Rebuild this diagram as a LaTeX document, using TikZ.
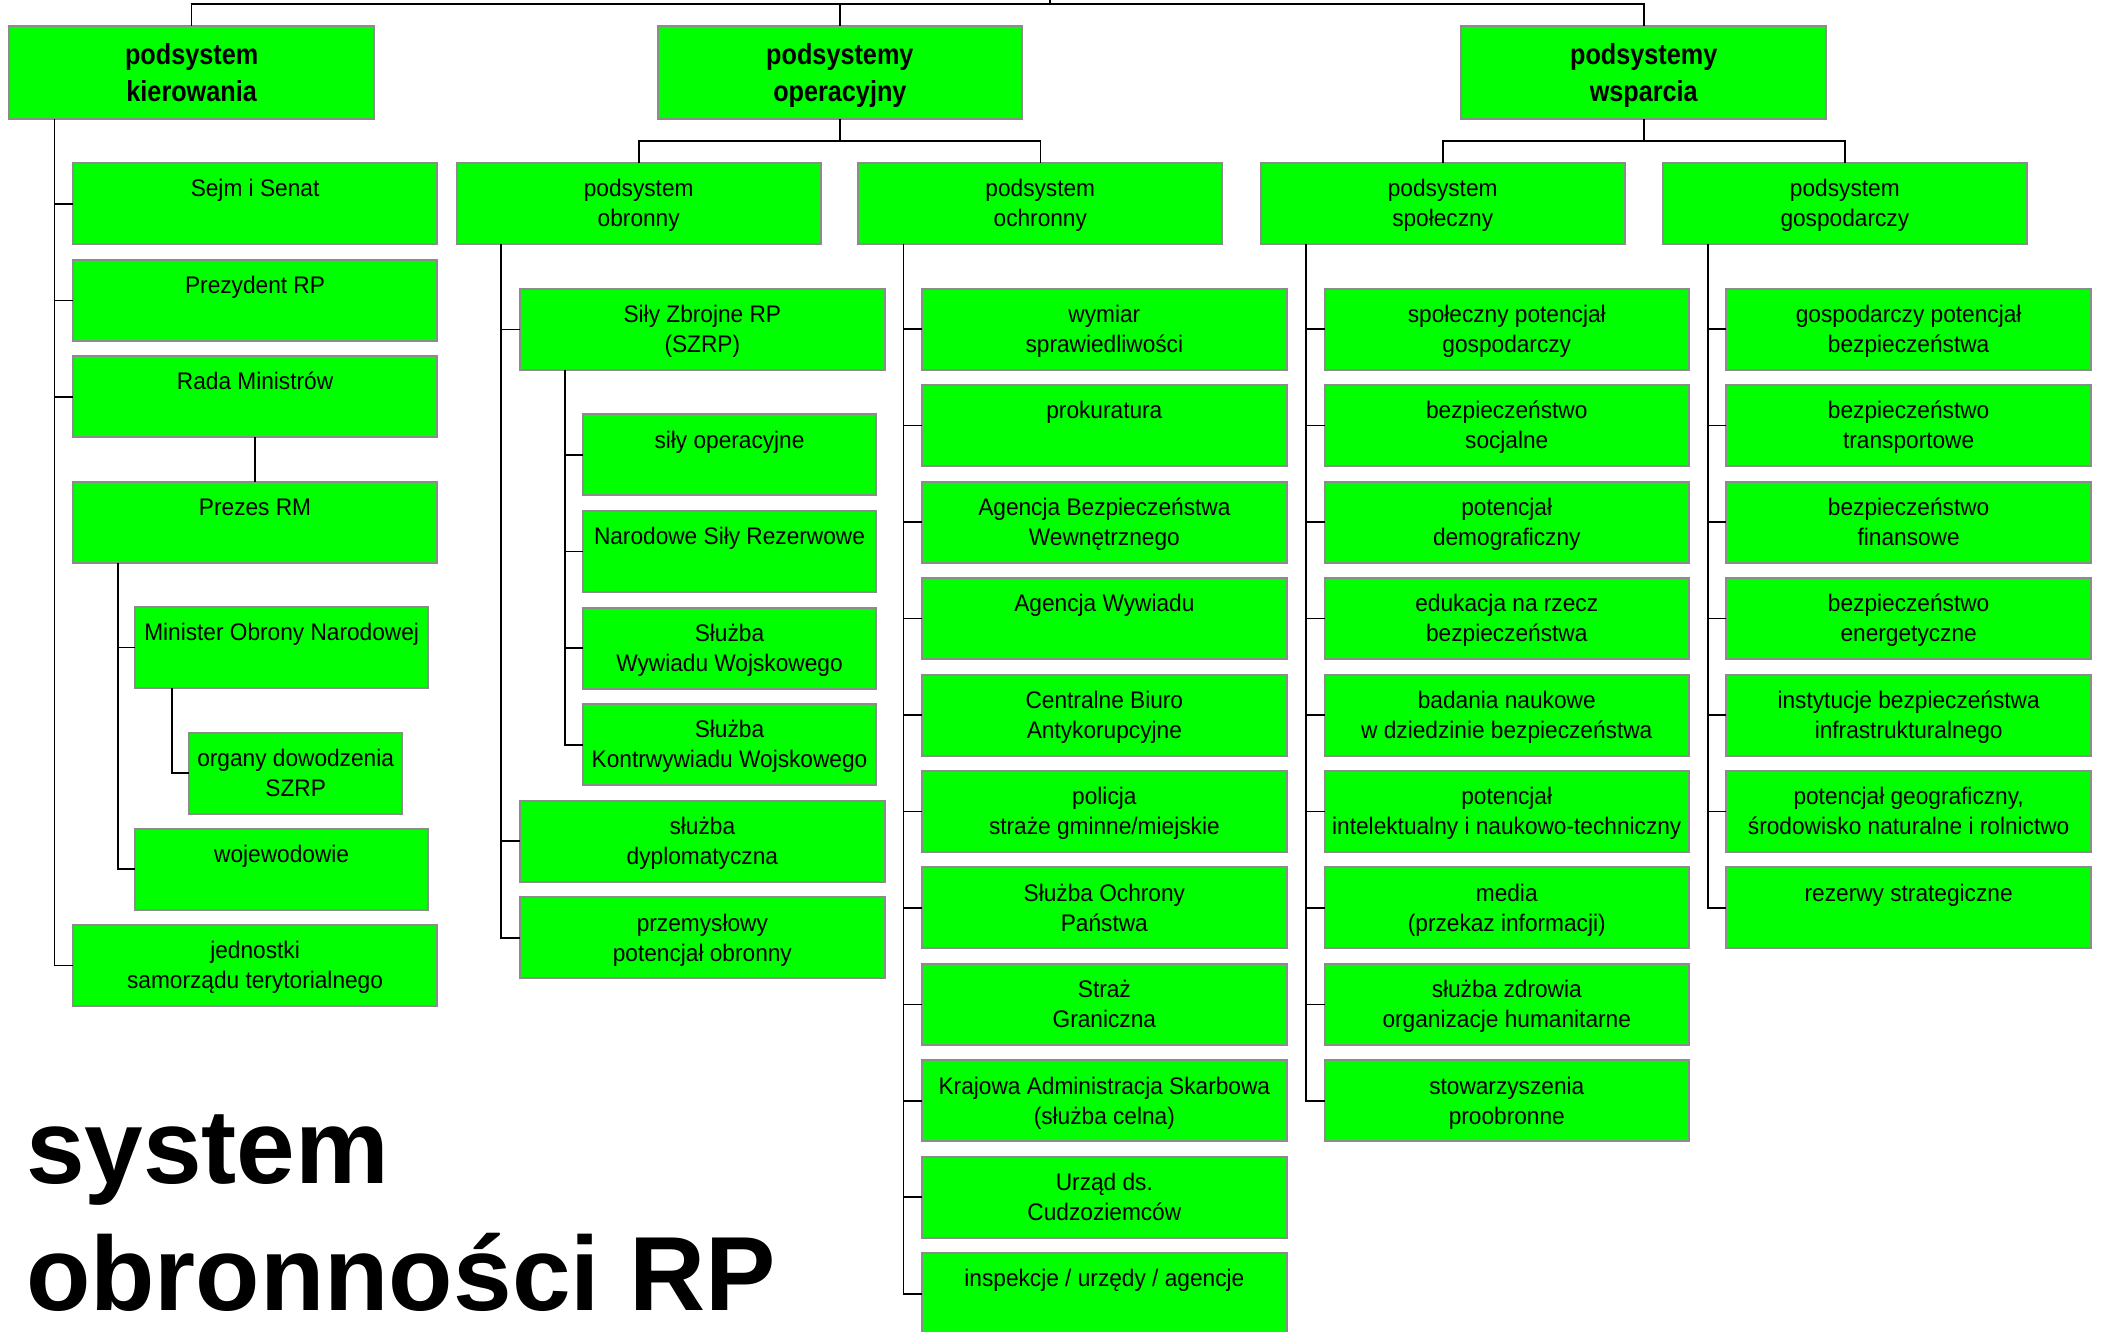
\documentclass[tikz,border=0pt]{standalone}
\usepackage{fontspec}
\setmainfont{Liberation Sans}
\newfontfamily\regf[FakeStretch=0.945]{Liberation Sans}
\newfontfamily\hdrf[FakeStretch=0.87]{Liberation Sans}
\usetikzlibrary{calc}
\definecolor{boxgreen}{RGB}{0,255,0}
\definecolor{boxborder}{RGB}{140,140,140}
\tikzset{
 box/.style={draw=boxborder, fill=boxgreen, line width=1pt, inner sep=0pt, outer sep=0pt, anchor=north west},
 lbl/.style={anchor=north, inner sep=0pt, outer sep=0pt, align=center, font=\regf\fontsize{12pt}{15pt}\selectfont},
 hlbl/.style={anchor=north, inner sep=0pt, outer sep=0pt, align=center, font=\hdrf\bfseries\fontsize{14.5pt}{18.35pt}\selectfont},
 conn/.style={draw=black, line width=0.8pt},
 ttl/.style={anchor=north west, inner sep=0pt, outer sep=0pt, align=left, font=\bfseries\fontsize{52.7pt}{63.5pt}\selectfont},
}
\newcommand{\bx}[5]{%
 \node[box, minimum width=#4*0.5pt, minimum height=40.5pt] (#1) at (#2,#3) {};
 \node[lbl] (#1t) at ($(#1.north)+(0,9.7)$) {\rule{0pt}{12pt}#5};
}
\newcommand{\hbx}[4]{%
 \node[box, minimum width=182.35pt, minimum height=46.5pt] (#1) at (#2,#3) {};
 \node[hlbl] (#1t) at ($(#1.north)+(0,10)$) {\rule{0pt}{14.5pt}#4};
}
\begin{document}
\begin{tikzpicture}[x=0.5pt,y=-0.5pt]
\fill[white] (0,0) rectangle (2103,1332);
\useasboundingbox (0,0) rectangle (2103,1332);

% level 1
\hbx{kier}{9.3}{26}{podsystem\\kierowania}
\hbx{oper}{657.5}{26}{podsystemy\\operacyjny}
\hbx{wsp}{1461.4}{26}{podsystemy\\wsparcia}

% level 2
\bx{obr}{456.7}{163.3}{364}{podsystem\\obronny}
\bx{och}{858.3}{163.3}{364}{podsystem\\ochronny}
\bx{spo}{1260.7}{163.3}{364}{podsystem\\społeczny}
\bx{gos}{1662.8}{163.3}{364}{podsystem\\gospodarczy}

% column A
\bx{sejm}{72.7}{163.3}{364.7}{Sejm i Senat}
\bx{prez}{72.7}{259.8}{364.7}{Prezydent RP}
\bx{rada}{72.7}{356.2}{364.7}{Rada Ministrów}
\bx{prm}{72.7}{481.5}{364.7}{Prezes RM}
\bx{mon}{135.3}{606.8}{292.7}{Minister Obrony Narodowej}
\bx{org}{189.3}{732.6}{212.7}{organy dowodzenia\\SZRP}
\bx{woj}{135.3}{828.5}{292.7}{wojewodowie}
\bx{jst}{72.7}{925}{364.7}{jednostki\\samorządu terytorialnego}

% column B
\bx{szrp}{520}{289}{364.7}{Siły Zbrojne RP\\(SZRP)}
\bx{ops}{583.3}{414.4}{292.4}{siły operacyjne}
\bx{nsr}{583.3}{511}{292.4}{Narodowe Siły Rezerwowe}
\bx{sww}{583.3}{607.6}{292.4}{Służba\\Wywiadu Wojskowego}
\bx{skw}{583.3}{704.2}{292.4}{Służba\\Kontrwywiadu Wojskowego}
\bx{dyp}{520}{800.5}{364.7}{służba\\dyplomatyczna}
\bx{prz}{520}{897.4}{364.7}{przemysłowy\\potencjał obronny}

% column C
\bx{c0}{922}{288.7}{364.7}{wymiar\\sprawiedliwości}
\bx{c1}{922}{385.15}{364.7}{prokuratura}
\bx{c2}{922}{481.6}{364.7}{Agencja Bezpieczeństwa\\Wewnętrznego}
\bx{c3}{922}{578.05}{364.7}{Agencja Wywiadu}
\bx{c4}{922}{674.5}{364.7}{Centralne Biuro\\Antykorupcyjne}
\bx{c5}{922}{770.95}{364.7}{policja\\straże gminne/miejskie}
\bx{c6}{922}{867.4}{364.7}{Służba Ochrony\\Państwa}
\bx{c7}{922}{963.85}{364.7}{Straż\\Graniczna}
\bx{c8}{922}{1060.3}{364.7}{Krajowa Administracja Skarbowa\\(służba celna)}
\bx{c9}{922}{1156.75}{364.7}{Urząd ds.\\Cudzoziemców}
\bx{c10}{922}{1253.2}{364.7}{inspekcje / urzędy / agencje}

% column D
\bx{d0}{1324.5}{288.7}{364.5}{społeczny potencjał\\gospodarczy}
\bx{d1}{1324.5}{385.15}{364.5}{bezpieczeństwo\\socjalne}
\bx{d2}{1324.5}{481.6}{364.5}{potencjał\\demograficzny}
\bx{d3}{1324.5}{578.05}{364.5}{edukacja na rzecz\\bezpieczeństwa}
\bx{d4}{1324.5}{674.5}{364.5}{badania naukowe\\w dziedzinie bezpieczeństwa}
\bx{d5}{1324.5}{770.95}{364.5}{potencjał\\intelektualny i naukowo-techniczny}
\bx{d6}{1324.5}{867.4}{364.5}{media\\(przekaz informacji)}
\bx{d7}{1324.5}{963.85}{364.5}{służba zdrowia\\organizacje humanitarne}
\bx{d8}{1324.5}{1060.3}{364.5}{stowarzyszenia\\proobronne}

% column E
\bx{e0}{1726.3}{288.7}{364.7}{gospodarczy potencjał\\bezpieczeństwa}
\bx{e1}{1726.3}{385.15}{364.7}{bezpieczeństwo\\transportowe}
\bx{e2}{1726.3}{481.6}{364.7}{bezpieczeństwo\\finansowe}
\bx{e3}{1726.3}{578.05}{364.7}{bezpieczeństwo\\energetyczne}
\bx{e4}{1726.3}{674.5}{364.7}{instytucje bezpieczeństwa\\infrastrukturalnego}
\bx{e5}{1726.3}{770.95}{364.7}{potencjał geograficzny,\\środowisko naturalne i rolnictwo}
\bx{e6}{1726.3}{867.4}{364.7}{rezerwy strategiczne}

% connectors: top
\coordinate (topbar) at (1050,4);
\coordinate (topend) at (1050,-10);
\draw[conn] (kier.north) |- (topbar) -| (wsp.north);
\draw[conn] (oper.north) -- (oper.north |- topbar);
\draw[conn] (topend) -- (topbar);

% level 2 junctions
\coordinate (jop) at ($(oper.south)+(0,22.3)$);
\draw[conn] (oper.south) -- (jop);
\draw[conn] (obr.north) |- (jop) -| (och.north);
\coordinate (jws) at ($(wsp.south)+(0,22.3)$);
\draw[conn] (wsp.south) -- (jws);
\draw[conn] (spo.north) |- (jws) -| (gos.north);

% column A tree
\coordinate (vA) at ($(kier.south west)+(45,0)$);
\draw[conn] (vA) |- (jst.west);
\foreach \n in {sejm,prez,rada} \draw[conn] (\n.west) -- (\n.west -| vA);
\draw[conn] (rada.south) -- (prm.north);
\coordinate (vA2) at ($(prm.south west)+(45.3,0)$);
\draw[conn] (vA2) |- (woj.west);
\draw[conn] (mon.west) -- (mon.west -| vA2);
\coordinate (vA3) at ($(mon.south west)+(36.4,0)$);
\draw[conn] (vA3) |- (org.west);

% column B tree
\coordinate (vB) at ($(obr.south west)+(44.3,0)$);
\draw[conn] (vB) |- (prz.west);
\foreach \n in {szrp,dyp} \draw[conn] (\n.west) -- (\n.west -| vB);
\coordinate (vB2) at ($(szrp.south west)+(44.7,0)$);
\draw[conn] (vB2) |- (skw.west);
\foreach \n in {ops,nsr,sww} \draw[conn] (\n.west) -- (\n.west -| vB2);

% column C tree
\coordinate (vC) at ($(och.south west)+(45,0)$);
\draw[conn] (vC) |- (c10.west);
\foreach \i in {0,...,9} \draw[conn] (c\i.west) -- (c\i.west -| vC);

% column D tree
\coordinate (vD) at ($(spo.south west)+(45,0)$);
\draw[conn] (vD) |- (d8.west);
\foreach \i in {0,...,7} \draw[conn] (d\i.west) -- (d\i.west -| vD);

% column E tree
\coordinate (vE) at ($(gos.south west)+(45,0)$);
\draw[conn] (vE) |- (e6.west);
\foreach \i in {0,...,5} \draw[conn] (e\i.west) -- (e\i.west -| vE);

% title
\node[ttl] (title) at (26,1083) {\rule{0pt}{50pt}system\\obronności RP};
\end{tikzpicture}
\end{document}
